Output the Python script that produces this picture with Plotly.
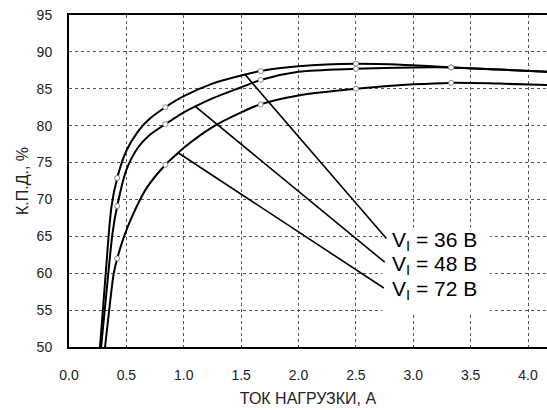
import plotly.graph_objects as go

# ---- data ----
x36 = [0.27, 0.32, 0.37, 0.42, 0.5, 0.6, 0.7, 0.84, 1.0, 1.25, 1.5, 1.67, 2.0, 2.5, 3.0, 3.33, 3.75, 4.17]
y36 = [50.0, 60.0, 69.0, 72.9, 76.6, 79.2, 80.9, 82.5, 84.0, 85.7, 86.8, 87.4, 88.05, 88.4, 88.2, 87.9, 87.6, 87.3]

x48 = [0.28, 0.33, 0.38, 0.42, 0.5, 0.6, 0.7, 0.84, 1.0, 1.1, 1.25, 1.5, 1.67, 2.0, 2.5, 3.0, 3.33, 3.75, 4.17]
y48 = [50.0, 58.0, 65.5, 69.1, 74.0, 77.0, 78.7, 80.2, 81.8, 82.6, 83.7, 85.2, 86.2, 87.3, 87.7, 87.9, 87.9, 87.6, 87.3]

x72 = [0.314, 0.35, 0.39, 0.42, 0.48, 0.55, 0.67, 0.84, 0.95, 1.0, 1.25, 1.5, 1.67, 2.0, 2.5, 3.0, 3.33, 3.75, 4.17]
y72 = [50.0, 55.0, 60.0, 62.0, 65.0, 67.7, 71.4, 74.7, 76.3, 77.0, 79.8, 81.8, 82.9, 84.1, 85.0, 85.6, 85.8, 85.7, 85.5]

mx = [0.42, 0.84, 1.67, 2.5, 3.33]
m36 = [72.9, 82.5, 87.4, 88.4, 87.9]
m48 = [69.1, 80.2, 86.2, 87.7, 87.9]
m72 = [62.0, 74.7, 82.9, 85.0, 85.8]

labels = ["V<sub>I</sub> = 36 В", "V<sub>I</sub> = 48 В", "V<sub>I</sub> = 72 В"]
call_x0 = [1.53, 1.10, 0.954]
call_y0 = [87.0, 82.6, 76.3]
call_x1 = [2.766, 2.751, 2.743]
call_y1 = [64.7, 61.5, 58.0]

xticks = [0.0, 0.5, 1.0, 1.5, 2.0, 2.5, 3.0, 3.5, 4.0]
yticks = [50, 55, 60, 65, 70, 75, 80, 85, 90, 95]

FONT = "Liberation Sans, Arial, sans-serif"

fig = go.Figure()

for xs, ys in [(x36, y36), (x48, y48), (x72, y72)]:
    fig.add_trace(go.Scatter(x=xs, y=ys, mode="lines",
                             line=dict(color="black", width=2, shape="spline", smoothing=0.8),
                             hoverinfo="skip", showlegend=False))

for i in range(3):
    fig.add_trace(go.Scatter(x=[call_x0[i], call_x1[i]], y=[call_y0[i], call_y1[i]],
                             mode="lines", line=dict(color="black", width=1.6),
                             hoverinfo="skip", showlegend=False))

for ys in [m36, m48, m72]:
    fig.add_trace(go.Scatter(x=mx, y=ys, mode="markers",
                             marker=dict(size=5, color="white", line=dict(color="#888", width=1)),
                             hoverinfo="skip", showlegend=False))

# white box behind labels (covers grid)
fig.add_shape(type="rect", xref="x", yref="y", x0=2.73, x1=3.67, y0=54.7, y1=66.2,
              fillcolor="white", line=dict(width=0), layer="between")

label_y = [64.4, 61.1, 57.7]
for t, ly in zip(labels, label_y):
    fig.add_annotation(x=2.80, y=ly, xref="x", yref="y", text=t, showarrow=False,
                       xanchor="left", yanchor="middle",
                       font=dict(family=FONT, size=21, color="black"))

fig.update_xaxes(range=[0, 4.165], tickvals=xticks, ticktext=[f"{v:.1f}" for v in xticks],
                 showline=True, linecolor="black", linewidth=2, mirror=True,
                 showgrid=True, gridcolor="#555", gridwidth=1, griddash="dot",
                 ticks="outside", ticklen=14, tickcolor="rgba(0,0,0,0)",
                 tickfont=dict(family=FONT, size=14, color="#222"),
                 title=dict(text="ТОК НАГРУЗКИ, А", font=dict(family=FONT, size=16, color="#222"),
                            standoff=11),
                 zeroline=False)
fig.update_yaxes(range=[50, 95], tickvals=yticks,
                 showline=True, linecolor="black", linewidth=2, mirror=False,
                 showgrid=True, gridcolor="#555", gridwidth=1, griddash="dot",
                 ticks="outside", ticklen=12, tickcolor="rgba(0,0,0,0)",
                 tickfont=dict(family=FONT, size=14, color="#222"),
                 title=dict(text="К.П.Д., %", font=dict(family=FONT, size=16, color="#222"),
                            standoff=4),
                 zeroline=False)

fig.update_layout(width=547, height=410,
                  margin=dict(l=69, r=0, t=15, b=63),
                  paper_bgcolor="white", plot_bgcolor="white",
                  showlegend=False)

fig.write_html("out.html")
